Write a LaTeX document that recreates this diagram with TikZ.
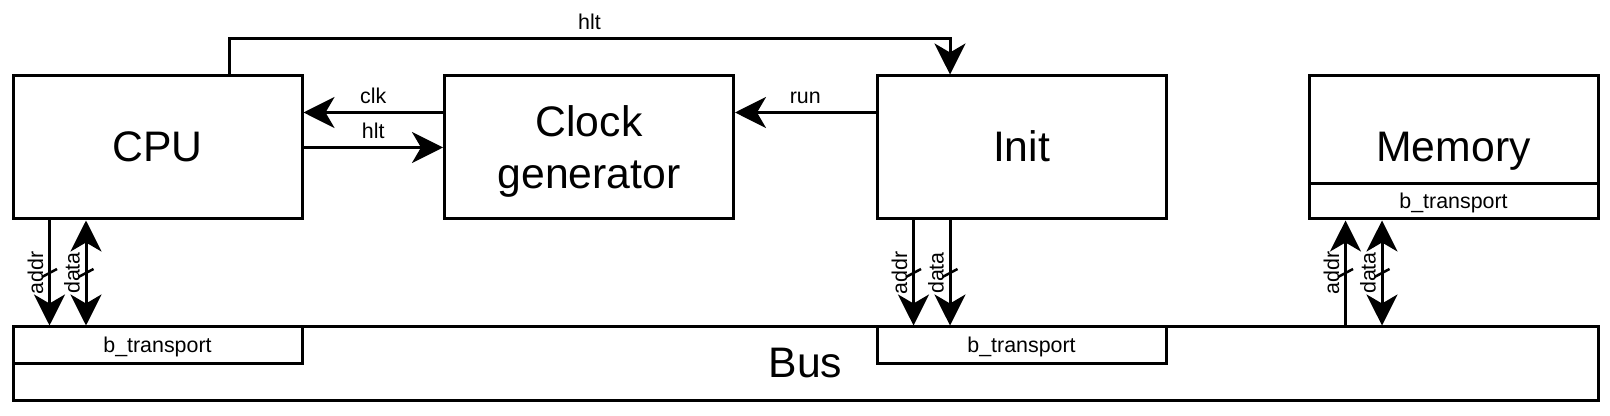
\documentclass[tikz,border=0pt]{standalone}
\usepackage{fontspec}
\setmainfont{Liberation Sans}
\usetikzlibrary{arrows.meta}
\begin{document}
\begin{tikzpicture}[x=0.5pt,y=-0.5pt,
  line width=1.5pt,
  big/.style={font=\fontsize{21.35pt}{25.6pt}\selectfont},
  small/.style={font=\fontsize{10.7pt}{12.8pt}\selectfont},
  boxshape/.style={draw, rectangle, inner sep=0pt, minimum width=144.5pt, minimum height=71.5pt, big},
  box/.style={boxshape, text height=16pt, text depth=1.78pt},
  strip/.style={draw, rectangle, inner sep=0pt, minimum width=144.5pt, minimum height=18.5pt, small, text height=8pt, text depth=0.9pt},
  tip/.tip={Stealth[length=15.5pt,width=15.5pt,inset=4.5pt]},
  arr/.style={-tip},
  darr/.style={tip-tip},
  lab/.style={small, inner sep=0pt, anchor=base, yshift=4.5pt},
  vlab/.style={small, inner sep=0pt, anchor=base, rotate=90},
  slash/.style={line width=1.25pt}
]
\useasboundingbox (0,0) rectangle (1610,416);

% boxes
\node[box] (cpu) at (157.5,147.5) {CPU};
\node[boxshape] (clock) at (589,147.5) {};
\node[big, inner sep=0pt, align=center] (clocktext) at ([yshift=-2pt]clock.center) {Clock\\generator};
\node[box] (init) at (1021.5,147.5) {Init};
\node[box] (mem) at (1453.5,147.5) {Memory};
\node[strip, minimum height=17.5pt] (memb) at (1453.5,201.5) {b\_transport};
\node[draw, rectangle, inner sep=0pt, minimum width=792.5pt, minimum height=36.5pt, big, text height=16pt, text depth=1.78pt] (bus) at (805.5,363.5) {Bus};
\node[strip] (cpub) at (157.5,345.5) {b\_transport};
\node[strip] (initb) at (1021.5,345.5) {b\_transport};

% horizontal connectors
\draw[arr] ([yshift=17.5pt]clock.west) -- node[lab] (lclk) {clk} ([yshift=17.5pt]cpu.east);
\draw[arr] (cpu.east) -- node[lab] (lhlt) {hlt} (clock.west);
\draw[arr] ([yshift=17.5pt]init.west) -- node[lab] (lrun) {run} ([yshift=17.5pt]clock.east);
\draw[arr] ([xshift=35.75pt]cpu.north) -- ++(0,18pt) -| node[lab, pos=0.25] (ltop) {hlt} ([xshift=-35.75pt]init.north);

% vertical connectors
\coordinate (cA) at ([xshift=-54pt]cpu.south);
\coordinate (cD) at ([xshift=-35.75pt]cpu.south);
\coordinate (iA) at ([xshift=-54pt]init.south);
\coordinate (iD) at ([xshift=-35.75pt]init.south);
\coordinate (mA) at ([xshift=-54pt]memb.south);
\coordinate (mD) at ([xshift=-35.75pt]memb.south);

\draw[arr] (cA) -- coordinate[pos=0.5] (s1) (cA |- cpub.north);
\draw[darr] (cD) -- coordinate[pos=0.5] (s2) (cD |- cpub.north);
\draw[arr] (iA) -- coordinate[pos=0.5] (s3) (iA |- initb.north);
\draw[arr] (iD) -- coordinate[pos=0.5] (s4) (iD |- initb.north);
\draw[arr] (mA |- bus.north) -- coordinate[pos=0.5] (s5) (mA);
\draw[darr] (mD |- bus.north) -- coordinate[pos=0.5] (s6) (mD);

\foreach \s/\t/\n in {s1/addr/l1, s2/data/l2, s3/addr/l3, s4/data/l4, s5/addr/l5, s6/data/l6} {
  \draw[slash] ([shift={(-7.5,4)}]\s) -- ([shift={(7.5,-4)}]\s);
  \node[vlab] (\n) at ([xshift=-3.25pt]\s) {\t};
}
\end{tikzpicture}
\end{document}
